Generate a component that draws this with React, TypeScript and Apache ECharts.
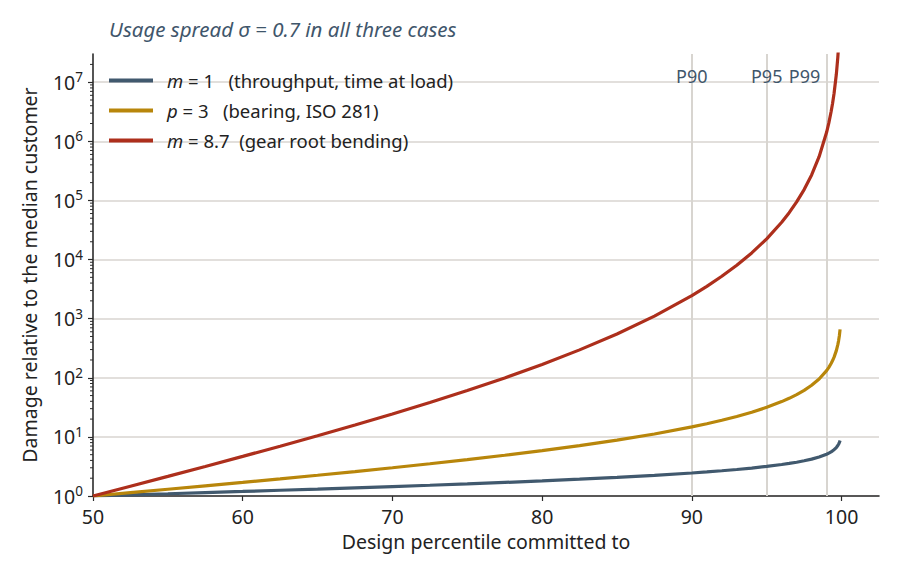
import { useEffect, useRef } from "react";
import * as echarts from "echarts";

const FONT = "'Noto Sans', sans-serif";
const INK = "#222222";
const SLATE = "#3f566b";
const GRID = "#d8d5d0";

// design percentile (x) and damage relative to the median customer (y)
const percentiles = [
  50, 52.5, 55, 57.5, 60, 62.5, 65, 67.5, 70, 72.5, 75, 77.5, 80, 82.5, 85, 87.5,
  90, 91, 92, 93, 94, 95, 96, 96.5, 97, 97.5, 98, 98.5, 99, 99.15, 99.3, 99.4, 99.5, 99.65, 99.75, 99.8, 99.85, 99.9
];
const damageM1 = [
  1.0, 1.045, 1.092, 1.142, 1.194, 1.25, 1.31, 1.374, 1.444, 1.52, 1.603, 1.697, 1.802, 1.924, 2.066, 2.237,
  2.452, 2.556, 2.674, 2.81, 2.969, 3.163, 3.406, 3.555, 3.73, 3.943, 4.211, 4.568, 5.096, 5.316, 5.585, 5.804,
  6.069, 6.605, 7.134, 7.498, 7.983, 8.7
];
const damageP3 = [
  1.0, 1.141, 1.302, 1.488, 1.702, 1.953, 2.246, 2.593, 3.008, 3.509, 4.123, 4.886, 5.856, 7.117, 8.815, 11.2,
  14.75, 16.7, 19.12, 22.18, 26.18, 31.63, 39.51, 44.93, 51.92, 61.31, 74.65, 95.3, 132.3, 150.2, 174.2, 195.5,
  223.5, 288.1, 363.2, 421.7, 508.9, 658
];
const damageM87 = [
  1.0, 1.465, 2.15, 3.164, 4.678, 6.963, 10.45, 15.85, 24.38, 38.11, 60.82, 99.54, 168.3, 296.4, 551, 1102,
  2455, 3520, 5208, 8005, 12950, 22430, 42700, 62000, 94300, 152700, 270300, 549000, 1.422e6, 2.05e6, 3.16e6, 4.41e6,
  6.5e6, 1.36e7, 2.66e7, 4.1e7, 7.07e7, 1.49e8
];

const seriesNames = ["m1", "p3", "m87"];
const legendLabels: Record<string, string> = {
  m1: "{i|m} = 1   (throughput, time at load)",
  p3: "{i|p} = 3   (bearing, ISO 281)",
  m87: "{i|m} = 8.7  (gear root bending)"
};
const seriesColors = ["#41596e", "#b8860b", "#ad2f1c"];

const markerPercentiles = [90, 95, 99];
const markerLabels = ["P90", "P95", "P99"];
const markerLabelLevel = 1.25e7;

const xTicks = [50, 60, 70, 80, 90, 100];
const minorMantissas = [2, 3, 4, 5, 6, 7, 8, 9];
const decades = [1, 10, 100, 1e3, 1e4, 1e5, 1e6, 1e7];
const yMax = 3e7;

export default function App() {
  const ref = useRef<HTMLDivElement | null>(null);

  useEffect(() => {
    if (!ref.current) return;
    const chart = echarts.init(ref.current, null, { renderer: "svg" });

    const minorTicks: number[] = [];
    for (const d of decades) {
      for (const m of minorMantissas) {
        if (d * m < yMax) minorTicks.push(d * m);
      }
    }

    const curves = [damageM1, damageP3, damageM87].map((values, i) => ({
      name: seriesNames[i],
      type: "line",
      z: 4,
      showSymbol: false,
      symbol: "none",
      clip: true,
      lineStyle: { color: seriesColors[i], width: 3.2 },
      itemStyle: { color: seriesColors[i] },
      data: percentiles.map((p, k) => [p, values[k]])
    }));

    chart.setOption({
      animation: false,
      backgroundColor: "#ffffff",
      textStyle: { fontFamily: FONT },
      title: {
        text: "Usage spread σ = 0.7 in all three cases",
        left: 109,
        top: 19,
        padding: 0,
        textStyle: { fontFamily: FONT, fontSize: 20.5, fontStyle: "italic", fontWeight: "normal", color: SLATE }
      },
      legend: {
        data: seriesNames,
        orient: "vertical",
        left: 109,
        top: 70,
        padding: 0,
        itemWidth: 44,
        itemHeight: 4,
        itemGap: 9,
        icon: "rect",
        formatter: (name: string) => legendLabels[name],
        textStyle: {
          fontFamily: FONT,
          fontSize: 18.5,
          color: INK,
          lineHeight: 21,
          padding: [0, 0, 0, 9],
          rich: {
            i: { fontFamily: FONT, fontSize: 18.5, fontStyle: "italic", color: INK, lineHeight: 21 }
          }
        }
      },
      grid: { left: 93, right: 21, top: 54, bottom: 79 },
      xAxis: {
        type: "value",
        min: 50,
        max: 102.5,
        interval: 10,
        name: "Design percentile committed to",
        nameLocation: "middle",
        nameGap: 35,
        nameTextStyle: { fontFamily: FONT, fontSize: 19.5, color: INK },
        axisLine: { lineStyle: { color: "#2b2b2b", width: 1.6 } },
        axisTick: { length: 5, lineStyle: { color: "#2b2b2b", width: 1.2 }, customValues: xTicks },
        axisLabel: { fontFamily: FONT, fontSize: 19.5, color: INK, margin: 10, customValues: xTicks },
        splitLine: { show: false }
      },
      yAxis: {
        type: "log",
        logBase: 10,
        min: 1,
        max: yMax,
        interval: 1,
        name: "Damage relative to the median customer",
        nameLocation: "middle",
        nameGap: 54,
        nameTextStyle: { fontFamily: FONT, fontSize: 19.5, color: INK },
        axisLine: { show: true, lineStyle: { color: "#2b2b2b", width: 1.6 } },
        axisTick: { length: 5, lineStyle: { color: "#2b2b2b", width: 1.2 } },
        axisLabel: {
          margin: 10,
          showMaxLabel: false,
          formatter: (v: number) => `{b|10}{s|${Math.round(Math.log10(v))}}`,
          rich: {
            b: { fontFamily: FONT, fontSize: 19.5, color: INK, lineHeight: 24 },
            s: { fontFamily: FONT, fontSize: 13.5, color: INK, verticalAlign: "top", lineHeight: 15 }
          }
        },
        splitLine: { show: true, showMaxLine: false, lineStyle: { color: GRID, width: 1.5 } }
      },
      series: [
        {
          name: "marker lines",
          type: "scatter",
          z: 1,
          silent: true,
          symbolSize: 0,
          data: [],
          markLine: {
            z: 1,
            silent: true,
            symbol: "none",
            label: { show: false },
            lineStyle: { color: GRID, width: 2, type: "solid" },
            data: markerPercentiles.map((p) => ({ xAxis: p }))
          }
        },
        {
          name: "marker labels",
          type: "scatter",
          z: 8,
          silent: true,
          symbolSize: 0,
          itemStyle: { opacity: 1, color: SLATE },
          data: markerPercentiles.map((p, i) => ({
            value: [p, markerLabelLevel],
            label: i === 2 ? { offset: [-22, 0] } : undefined
          })),
          label: {
            show: true,
            position: "inside",
            formatter: (params: any) => markerLabels[params.dataIndex],
            fontFamily: FONT,
            fontSize: 18,
            color: SLATE,
            opacity: 1,
            textBorderWidth: 0
          }
        },
        {
          name: "minor ticks",
          type: "custom",
          silent: true,
          z: 5,
          clip: false,
          data: minorTicks.map((v) => [50, v]),
          renderItem: (_params: any, api: any) => {
            const p = api.coord([api.value(0), api.value(1)]);
            return {
              type: "line",
              shape: { x1: p[0] - 3, y1: p[1], x2: p[0], y2: p[1] },
              style: { stroke: "#2b2b2b", lineWidth: 1 }
            };
          }
        },
        ...curves
      ]
    });

    return () => chart.dispose();
  }, []);

  return <div ref={ref} style={{ position: "absolute", left: 0, top: 0, width: 900, height: 575 }} />;
}
